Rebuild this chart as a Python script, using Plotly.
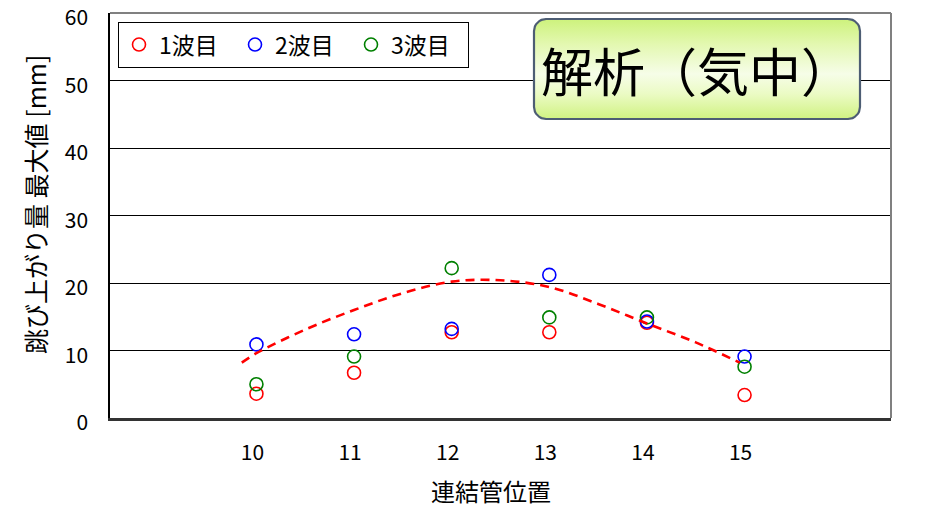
import math
import plotly.graph_objects as go

# ---- data ----
positions = [10, 11, 12, 13, 14, 15]
wave1 = [3.6, 6.7, 12.7, 12.7, 14.1, 3.4]
wave2 = [10.9, 12.4, 13.2, 21.2, 14.3, 9.1]
wave3 = [5.0, 9.1, 22.2, 14.9, 14.9, 7.6]
trend_x = [9.85, 10.0, 10.5, 11.0, 11.5, 12.0, 12.5, 13.0, 13.5, 14.0, 14.5, 14.95]
trend_y = [8.2, 9.6, 13.1, 16.0, 18.5, 20.2, 20.4, 19.4, 16.9, 14.0, 11.2, 8.2]
series_names = ["1波目", "2波目", "3波目"]
y_ticks = [0, 10, 20, 30, 40, 50, 60]
x_ticks = [10, 11, 12, 13, 14, 15]
title_text = "解析（気中）"
x_title = "連結管位置"
y_title = "跳び上がり量 最大値 [mm]"

FONT = "Noto Sans CJK JP"
W, H = 933, 508
L, R, T, B = 110, 42, 13, 90
PW, PH = W - L - R, H - T - B

fig = go.Figure()

colors = ["#ff0000", "#0000ff", "#008000"]
for name, vals, c in zip(series_names, [wave1, wave2, wave3], colors):
    fig.add_trace(go.Scatter(
        x=positions, y=vals, mode="markers", name=name,
        marker=dict(symbol="circle-open", size=13, color=c, line=dict(width=1.6, color=c)),
        hoverinfo="skip",
    ))

fig.add_trace(go.Scatter(
    x=trend_x, y=trend_y, mode="lines",
    line=dict(color="#ff0000", width=2.6, dash="9px,6px", shape="spline"),
    showlegend=False, hoverinfo="skip",
))

# ---- title box drawn on pixel-like overlay axes ----
bx0, bx1, by0, by1, r = 534, 860, 19, 119, 12
def py(v):
    return H - v
pts_x, pts_y = [], []
corners = [(bx1 - r, by0 + r, -90, 0), (bx1 - r, by1 - r, 0, 90),
           (bx0 + r, by1 - r, 90, 180), (bx0 + r, by0 + r, 180, 270)]
for cx, cy, a0, a1 in corners:
    for k in range(9):
        a = math.radians(a0 + (a1 - a0) * k / 8)
        pts_x.append(cx + r * math.cos(a))
        pts_y.append(py(cy + r * math.sin(a)))
pts_x.append(pts_x[0]); pts_y.append(pts_y[0])

fig.add_trace(go.Scatter(
    x=pts_x, y=pts_y, xaxis="x2", yaxis="y2", mode="lines", fill="toself",
    line=dict(color="#4d5d74", width=2.2),
    fillgradient=dict(type="vertical", colorscale=[[0, "#d0f282"], [0.25, "#ebfbc4"],
                                                    [0.45, "#f6fde8"], [0.75, "#e3f8b0"], [1, "#cdf27c"]]),
    showlegend=False, hoverinfo="skip",
))

fig.add_annotation(x=539, y=py(69), xref="x2", yref="y2", text=title_text, showarrow=False,
                   xanchor="left", yanchor="middle", font=dict(family=FONT, size=52, color="black"))

# axis titles placed to match the reference position
fig.add_annotation(x=(35 - L) / PW, y=(H - B - 205) / PH, xref="paper", yref="paper", text=y_title,
                   showarrow=False, textangle=-90, xanchor="center", yanchor="middle",
                   font=dict(family=FONT, size=25, color="black"))
fig.add_annotation(x=(491 - L) / PW, y=(H - B - 490) / PH, xref="paper", yref="paper", text=x_title,
                   showarrow=False, xanchor="center", yanchor="middle",
                   font=dict(family=FONT, size=24, color="black"))

fig.update_layout(
    width=W, height=H, margin=dict(l=L, r=R, t=T, b=B, autoexpand=False),
    paper_bgcolor="white", plot_bgcolor="white",
    font=dict(family=FONT, color="black"),
    showlegend=True,
    legend=dict(orientation="h", x=0.01, y=0.978, xanchor="left", yanchor="top",
                bgcolor="white", bordercolor="black", borderwidth=1.2,
                font=dict(family=FONT, size=23), itemwidth=30, entrywidthmode="pixels", entrywidth=71,
                tracegroupgap=0),
    xaxis=dict(range=[8.5, 16.5], tickvals=x_ticks, ticktext=[str(v) for v in x_ticks],
               showgrid=False, zeroline=False, showline=True, linecolor="#333333", linewidth=2.5,
               ticks="", tickfont=dict(family=FONT, size=21), ticklabelstandoff=14,
               ticklabelshift=-4, automargin=False),
    yaxis=dict(range=[-0.001, 60.001], tickvals=y_ticks, showgrid=True, gridcolor="black", gridwidth=1,
               zeroline=False, showline=True, linecolor="black", linewidth=1.5,
               ticks="", tickfont=dict(family=FONT, size=21), ticklabelstandoff=16,
               ticklabelshift=5, ticklabeloverflow="allow", automargin=False),
    xaxis2=dict(overlaying="x", range=[L, W - R], visible=False, fixedrange=True),
    yaxis2=dict(overlaying="y", range=[B, H - T], visible=False, fixedrange=True),
    shapes=[
        dict(type="line", xref="paper", yref="paper", x0=0, x1=1, y0=1, y1=1,
             line=dict(color="#808080", width=2)),
        dict(type="line", xref="paper", yref="paper", x0=1, x1=1, y0=0, y1=1,
             line=dict(color="#808080", width=2)),
    ],
)

fig.write_html("out.html", config={"displayModeBar": False},
               post_script="document.body.style.margin='0';document.body.style.overflow='hidden';")
